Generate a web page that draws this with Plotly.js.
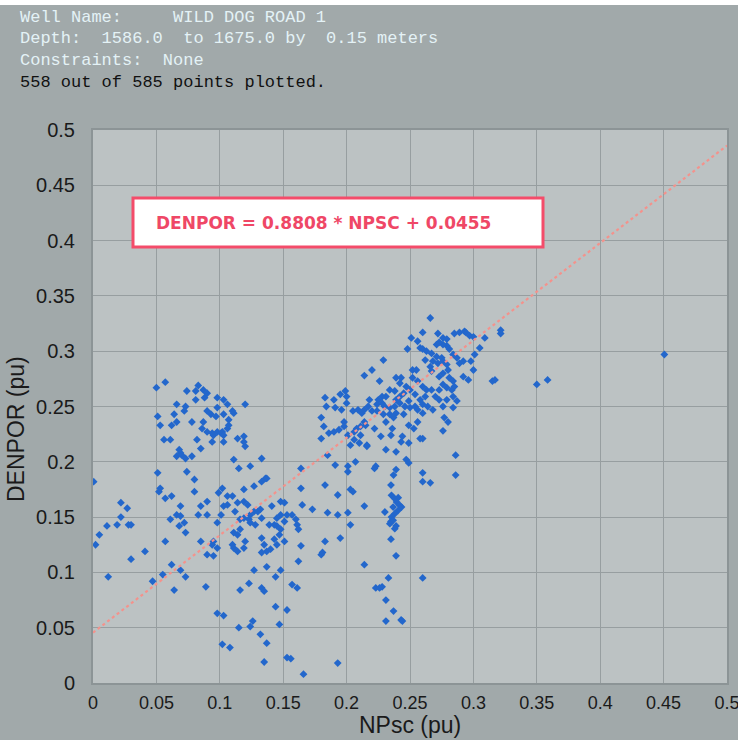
<!DOCTYPE html>
<html>
<head>
<meta charset="utf-8">
<script src="https://cdn.plot.ly/plotly-3.0.1.min.js"></script>
<style>html,body{margin:0;padding:0;background:#fff;}#chart{width:746px;height:740px;}</style>
</head>
<body>
<div id="chart"></div>
<script>
// ---- Header text ----
const headerLines = [
  "Well Name:     WILD DOG ROAD 1",
  "Depth:  1586.0  to 1675.0 by  0.15 meters",
  "Constraints:  None",
  "558 out of 585 points plotted."
];
const xTitle = "NPsc (pu)";
const yTitle = "DENPOR (pu)";
// ---- Regression ----
const slope = 0.8808;
const intercept = 0.0455;
const equationText = "DENPOR = 0.8808 * NPSC + 0.0455";
const lineX = [0, 0.5];

// ---- Scatter data (NPsc, DENPOR), by region ----
// main trend cluster (upper right)
const npscTrend = [
  .266,.260,.251,.256,.248,.272,.276,.279,.285,.289,
  .293,.294,.297,.300,.309,.305,.301,.298,.300,.296,
  .292,.289,.292,.287,.284,.281,.279,.276,.273,.271,
  .258,.260,.263,.267,.262,.271,.275,.268,.272,.276,
  .279,.280,.276,.273,.281,.284,.285,.283,.279,.276,
  .266,.267,.252,.255,.229,.220,.214,.226,.239,.243,
  .242,.247,.252,.256,.260,.263,.267,.273,.270,.262,
  .258,.254,.250,.245,.242,.239,.238,.234,.231,.228,
  .225,.224,.228,.230,.234,.238,.242,.246,.249,.250,
  .254,.256,.260,.264,.268,.260,.273,.276,.284,.287,
  .284,.279,.199,.200,.195,.190,.183,.184,.191,.196,
  .200,.205,.209,.212,.214,.217,.218,.220,.224,.229,
  .234,.239,.245,.277,.315,.317];
const denporTrend = [
  .330,.317,.312,.309,.302,.316,.312,.311,.316,.317,
  .318,.317,.314,.313,.312,.303,.297,.291,.283,.274,
  .277,.289,.291,.294,.297,.302,.305,.306,.308,.306,
  .303,.302,.300,.298,.292,.295,.294,.291,.289,.291,
  .288,.283,.280,.277,.276,.273,.268,.265,.267,.270,
  .286,.282,.283,.283,.292,.283,.278,.273,.276,.276,
  .271,.268,.276,.273,.268,.265,.265,.265,.259,.259,
  .256,.261,.265,.262,.259,.256,.264,.265,.259,.259,
  .256,.252,.253,.250,.249,.250,.253,.250,.255,.249,
  .250,.247,.252,.250,.247,.244,.256,.250,.249,.255,
  .259,.256,.264,.259,.261,.256,.258,.250,.249,.247,
  .253,.246,.247,.244,.247,.250,.256,.246,.246,.243,
  .243,.244,.243,.240,.273,.274];
// isolated points to the right
const npscRight = [0.3215, 0.3215, 0.350, 0.3585, 0.4506];
const denporRight = [0.319, 0.316, 0.270, 0.274, 0.297];
// upper-left swirl
const npscSwirl = [
  .050,.057,.074,.083,.081,.087,.090,.088,.081,.098,
  .103,.106,.120,.066,.073,.072,.051,.053,.064,.066,
  .062,.056,.061,.078,.090,.093,.098,.097,.103,.111,
  .110,.087,.086,.090,.094,.098,.102,.106,.107,.107,
  .101,.103,.095,.082,.085,.094,.103,.114,.119,.120,
  .119,.068,.069,.066,.070,.073,.078,.051,.074,.080];
const denporSwirl = [
  .267,.272,.264,.269,.264,.265,.262,.258,.256,.258,
  .256,.252,.252,.252,.250,.246,.241,.233,.243,.236,
  .233,.220,.220,.236,.246,.243,.249,.241,.243,.244,
  .246,.236,.230,.227,.226,.227,.227,.230,.233,.238,
  .226,.224,.224,.220,.212,.218,.218,.221,.223,.214,
  .218,.211,.208,.205,.206,.203,.205,.190,.191,.184];
// middle-left spread
const npscMid = [
  .053,.052,.057,.062,.069,.066,.069,.072,.061,.068,
  .073,.057,.080,.085,.090,.083,.090,.098,.099,.102,
  .106,.110,.103,.106,.101,.112,.114,.119,.122,.116,
  .119,.111,.115,.124,.133,.136,.133,.137,.127,.119,
  .111,.114,.116,.120,.110,.111,.114,.119,.127,.124,
  .123,.130,.132,.128,.133,.124,.141,.148,.151,.148,
  .145,.151,.153,.157,.160,.161,.162,.139,.143,.145,
  .148,.147,.133,.135,.137,.133,.140,.145,.151,.143,
  .095,.094,.090,.095,.098,.085,.164,.165,.164];
const denporMid = [
  .176,.173,.167,.169,.160,.152,.151,.145,.148,.142,
  .136,.128,.173,.160,.164,.152,.152,.145,.172,.176,
  .169,.169,.160,.161,.152,.155,.163,.164,.161,.148,
  .149,.202,.194,.196,.203,.185,.182,.185,.178,.175,
  .136,.134,.139,.128,.125,.122,.119,.122,.155,.152,
  .148,.155,.157,.143,.149,.145,.160,.164,.163,.152,
  .149,.146,.152,.152,.148,.143,.139,.143,.143,.142,
  .139,.134,.131,.125,.119,.118,.121,.125,.128,.130,
  .128,.125,.116,.115,.122,.128,.124,.161,.176];
// low points
const npscLow = [
  .127,.137,.148,.144,.162,.123,.116,.133,.135,.157,
  .161,.144,.153,.098,.103,.126,.124,.115,.132,.137,
  .102,.108,.135,.153,.156,.166,.193,.147,.164];
const denporLow = [
  .102,.105,.102,.096,.110,.090,.084,.086,.083,.089,
  .086,.069,.066,.063,.061,.056,.051,.050,.044,.036,
  .035,.032,.019,.023,.022,.008,.018,.053,.194];
// far left
const npscLeft = [
  .0005,.002,.005,.011,.022,.027,.019,.022,.028,.030,
  .041,.030,.012,.047,.055,.062,.069,.073,.064,.089];
const denporLeft = [
  .182,.125,.134,.142,.163,.158,.143,.150,.143,.143,
  .119,.112,.096,.092,.098,.107,.102,.096,.084,.087];
// middle right (between the clusters)
const npscCentre = [
  .180,.182,.186,.190,.185,.191,.183,.193,.201,.201,
  .205,.203,.214,.201,.193,.185,.173,.203,.195,.183,
  .180,.181,.180];
const denporCentre = [
  .221,.232,.226,.227,.206,.197,.179,.170,.196,.191,
  .173,.175,.160,.154,.152,.154,.157,.143,.131,.128,
  .116,.118,.240];
// right of centre, incl. vertical streak near 0.235
const npscStreak = [
  .198,.198,.194,.201,.206,.208,.211,.215,.214,.211,
  .206,.203,.210,.216,.222,.227,.231,.237,.236,.235,
  .243,.244,.249,.253,.249,.256,.260,.239,.247,.249,
  .231,.223,.222,.216,.207,.239,.237,.235,.239,.235,
  .235,.239,.233,.260,.260,.266,.260,.286,.286,.276,
  .258,.223,.226,.228,.231,.237,.243,.244,.231,.214,
  .280,
  .2354,.238,.2407,.2394,.242,.2433,.2367,.2407,.238,.2354,
  .2367,.2341,.238,.2302];
const denporStreak = [
  .236,.232,.229,.224,.227,.230,.232,.233,.236,.224,
  .220,.215,.217,.215,.230,.223,.236,.240,.230,.224,
  .218,.223,.217,.230,.233,.236,.221,.209,.202,.199,
  .211,.196,.194,.214,.200,.193,.188,.179,.142,.146,
  .130,.115,.095,.190,.182,.181,.095,.206,.188,.228,
  .221,.086,.086,.087,.075,.065,.057,.056,.056,.107,
  .236,
  .1697,.1667,.1676,.1636,.1606,.1591,.1591,.1561,.1531,.15,
  .1471,.1441,.1395,.1546];

const npsc = [].concat(npscTrend, npscRight, npscSwirl, npscMid, npscLow, npscLeft, npscCentre, npscStreak);
const denpor = [].concat(denporTrend, denporRight, denporSwirl, denporMid, denporLow, denporLeft, denporCentre, denporStreak);
const lineY = lineX.map(v => slope * v + intercept);

// ---- Layout geometry helpers (pixel -> paper) ----
const W = 746, H = 740;
const M = {l: 93, r: 19, t: 130, b: 57};
const pw = W - M.l - M.r, ph = H - M.t - M.b;
const px = v => (v - M.l) / pw;
const py = v => (H - M.b - v) / ph;

const traces = [
  {
    type: 'scatter', mode: 'markers', x: npsc, y: denpor,
    marker: {symbol: 'diamond', size: 6, color: '#2367cc', line: {width: 0}},
    hoverinfo: 'skip', showlegend: false
  },
  {
    type: 'scatter', mode: 'lines', x: lineX, y: lineY,
    line: {color: '#f4928c', width: 2.2, dash: 'dot'},
    hoverinfo: 'skip', showlegend: false
  }
];

const headerColors = ['#e4f2f6', '#e4f2f6', '#e4f2f6', '#111111'];
const annotations = headerLines.map((t, i) => ({
  xref: 'paper', yref: 'paper', x: px(18), y: py(17 + i * 21.7),
  xanchor: 'left', yanchor: 'middle', showarrow: false,
  text: t.replace(/ /g, '&nbsp;'),
  font: {family: 'Liberation Mono, monospace', size: 17, color: headerColors[i]}
}));
annotations.push({
  xref: 'paper', yref: 'paper', x: px(323), y: py(222.5),
  xanchor: 'center', yanchor: 'middle', showarrow: false,
  text: equationText,
  font: {family: 'DejaVu Sans, sans-serif', size: 17, color: '#ef4766', weight: 'bold'}
});
annotations.push({
  xref: 'paper', yref: 'paper', x: px(410), y: py(725),
  xanchor: 'center', yanchor: 'middle', showarrow: false,
  text: xTitle, font: {family: 'Liberation Sans, Arial, sans-serif', size: 23, color: '#1a1a1a'}
});
annotations.push({
  xref: 'paper', yref: 'paper', x: px(16), y: py(429),
  xanchor: 'center', yanchor: 'middle', showarrow: false, textangle: -90,
  text: yTitle, font: {family: 'Liberation Sans, Arial, sans-serif', size: 23, color: '#1a1a1a'}
});

const layout = {
  width: W, height: H, autosize: false,
  margin: M,
  paper_bgcolor: '#a1a9aa',
  plot_bgcolor: '#bcc2c3',
  font: {family: 'Liberation Sans, Arial, sans-serif', color: '#1a1a1a'},
  showlegend: false,
  xaxis: {
    range: [0, 0.5], tick0: 0, dtick: 0.05, autorange: false,
    showgrid: true, gridcolor: '#979ea0', gridwidth: 1, zeroline: false,
    showline: true, linecolor: '#8c9496', linewidth: 2, mirror: true,
    ticks: '', tickfont: {size: 18, color: '#1a1a1a'}, ticklabelstandoff: 2
  },
  yaxis: {
    range: [0, 0.5], tick0: 0, dtick: 0.05, autorange: false,
    showgrid: true, gridcolor: '#979ea0', gridwidth: 1, zeroline: false,
    showline: true, linecolor: '#8c9496', linewidth: 2, mirror: true,
    ticks: '', tickfont: {size: 20, color: '#1a1a1a'}, ticklabelstandoff: 12
  },
  shapes: [
    {type: 'rect', xref: 'paper', yref: 'paper', x0: px(-2), x1: px(748), y0: py(-2), y1: py(5),
     fillcolor: '#ffffff', line: {width: 0}, layer: 'above'},
    {type: 'rect', xref: 'paper', yref: 'paper', x0: px(738), x1: px(748), y0: py(742), y1: py(-2),
     fillcolor: '#ffffff', line: {width: 0}, layer: 'above'},
    {type: 'rect', xref: 'paper', yref: 'paper', x0: px(133), x1: px(543), y0: py(247), y1: py(198),
     fillcolor: '#ffffff', line: {color: '#f44c6a', width: 3}, layer: 'above'}
  ],
  annotations: annotations
};

Plotly.newPlot('chart', traces, layout, {staticPlot: true, displayModeBar: false});
</script>
</body>
</html>
